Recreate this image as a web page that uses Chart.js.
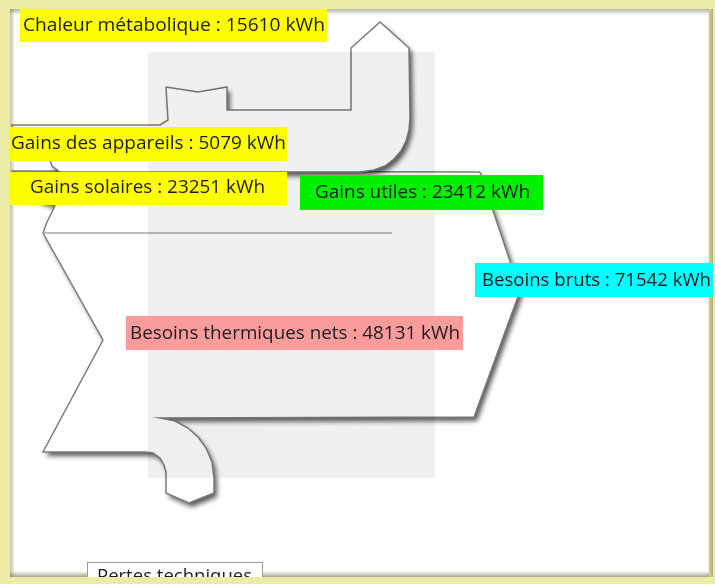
<!DOCTYPE html>
<html lang="fr">
<head>
<meta charset="utf-8" />
<title>Bilan thermique</title>
<style>
  html, body { margin: 0; padding: 0; background: #fff; }
  #wrap { width: 715px; height: 584px; }
</style>
</head>
<body>
<div id="wrap"><canvas id="bilan" width="715" height="584"></canvas></div>

<script src="https://cdn.jsdelivr.net/npm/chart.js"></script>
<script>
// flux du bilan (kWh)
const flowNames = ['Chaleur métabolique', 'Gains des appareils', 'Gains solaires', 'Gains utiles',
                   'Besoins bruts', 'Besoins thermiques nets', 'Pertes techniques'];
const flowValues = [15610, 5079, 23251, 23412, 71542, 48131, null];
const flowUnit = 'kWh';
const flowColors = ['#ffff00', '#ffff00', '#ffff00', '#00f000', '#00ffff', '#fa9c9c', '#ffffff'];

// contours du schéma, en unités du graphique (x 0-715, y 0-584 vers le bas)
const hookPath = [[166,87],[198,92],[227,87],[227,110],[351,110],[351,48],[380,22],[409,48],
                  [410,118],[409,130],[406,141],[401,151],[394,159],[385,166],[374,170],[360,172],
                  [60,172],[52,166],[50,160],[52,150],[12,150],[12,125],[160,125],[168,120],[166,87]];
const mainPath = [[480,172],[12,171],[12,190],[55,206],[47,222],[43,233],[103,340],[43,452],
                  [146,452],[153,453],[160,458],[164,465],[166,472],[166,493],[189,503],[214,493],
                  [214,478],[212,462],[206,448],[198,437],[188,428],[175,421],[160,418],
                  [474,417],[520,291],[480,172]];
const splitLine = [[43,233],[392,233]];
const highlightBox = [148, 52, 435, 478];

// étiquettes : boîte [x, y, largeur, hauteur] puis texte [x, ligne de base, largeur]
const labelBoxes = [[20,8,307,34],[10,127,277,34],[10,172,277,33],[300,175,243,35],
                    [475,263,238,34],[126,316,337,34],[87,562,175,30]];
const labelText = [[23,31,302],[11,149,275],[30,193,235],[315,198,215],
                   [482,286,229],[130,339,330],[97,582,155]];

const toPts = path => path.map(([x, y]) => ({ x: x, y: y }));

function setShadow(c, on) {
    c.shadowColor = on ? 'rgba(0,0,0,0.65)' : 'rgba(0,0,0,0)';
    c.shadowBlur = on ? 5 : 0;
    c.shadowOffsetX = on ? 3 : 0;
    c.shadowOffsetY = on ? 4 : 0;
}

const decorPlugin = {
    id: 'decor',
    beforeDatasetsDraw(chart) {
        chart.ctx.save();
        setShadow(chart.ctx, true);
    },
    // le remplissage porte l'ombre, pas le trait
    beforeDatasetDraw(chart) { setShadow(chart.ctx, false); },
    afterDatasetDraw(chart) { setShadow(chart.ctx, true); },
    afterDatasetsDraw(chart) {
        const c = chart.ctx;
        c.restore();
        const px = v => chart.scales.x.getPixelForValue(v);
        const py = v => chart.scales.y.getPixelForValue(v);
        // zone grisée
        const [x0, y0, x1, y1] = highlightBox;
        c.fillStyle = 'rgba(0,0,0,0.06)';
        c.fillRect(px(x0), py(y0), px(x1) - px(x0), py(y1) - py(y0));
    },
    afterDraw(chart) {
        const c = chart.ctx;
        const px = v => chart.scales.x.getPixelForValue(v);
        const py = v => chart.scales.y.getPixelForValue(v);
        const W = chart.width, H = chart.height;
        const L = 10, T = 9, R = 709, B = 577;

        // cadre jaune
        c.save();
        c.fillStyle = '#ececa6';
        c.beginPath();
        c.rect(0, 0, W, H);
        c.rect(L, T, R - L, B - T);
        c.fill('evenodd');
        const strip = (gx0, gy0, gx1, gy1, rx, ry, rw, rh, a) => {
            const g = c.createLinearGradient(gx0, gy0, gx1, gy1);
            g.addColorStop(0, 'rgba(95,95,50,' + a + ')');
            g.addColorStop(1, 'rgba(95,95,50,0)');
            c.fillStyle = g;
            c.fillRect(rx, ry, rw, rh);
        };
        strip(0, T, 0, T + 6, L, T, R - L, 6, 0.45);
        strip(L, 0, L + 5, 0, L, T, 5, B - T, 0.4);
        strip(R + 4, 0, R - 2, 0, R - 2, T, 6, B - T, 0.45);
        strip(0, B, 0, B - 6, L, B - 6, R - L, 6, 0.55);
        c.restore();

        // étiquettes
        c.save();
        c.beginPath();
        c.rect(L, T, R + 4 - L, B - T);
        c.clip();
        c.font = '19px "Open Sans", "Noto Sans", sans-serif';
        c.textBaseline = 'alphabetic';
        flowNames.forEach((name, i) => {
            const [bx, by, bw, bh] = labelBoxes[i];
            c.fillStyle = flowColors[i];
            c.fillRect(px(bx), py(by), px(bx + bw) - px(bx), py(by + bh) - py(by));
            if (flowValues[i] === null) {
                c.strokeStyle = '#9a9a9a';
                c.lineWidth = 1;
                c.strokeRect(px(bx) + 0.5, py(by) + 0.5, px(bx + bw) - px(bx), py(by + bh) - py(by));
            }
            const txt = flowValues[i] === null ? name : name + ' : ' + flowValues[i] + ' ' + flowUnit;
            const [tx, ty, tw] = labelText[i];
            const w = c.measureText(txt).width;
            c.save();
            c.translate(px(tx), py(ty));
            c.scale((px(tx + tw) - px(tx)) / w, 1);
            c.fillStyle = '#1c1c1c';
            c.fillText(txt, 0, 0);
            c.restore();
        });
        c.restore();
    }
};

const shapeStyle = {
    fill: 'shape',
    backgroundColor: '#ffffff',
    borderColor: '#7c7c7c',
    borderWidth: 1.5,
    pointRadius: 0,
    tension: 0
};

new Chart(document.getElementById('bilan'), {
    type: 'line',
    data: {
        datasets: [
            Object.assign({ label: 'besoins', data: toPts(mainPath), order: 3 }, shapeStyle),
            Object.assign({ label: 'apports', data: toPts(hookPath), order: 2 }, shapeStyle),
            { label: 'séparation', data: toPts(splitLine), order: 1, fill: false,
              borderColor: '#a8a8a8', borderWidth: 1.5, pointRadius: 0 }
        ]
    },
    options: {
        responsive: false,
        animation: false,
        events: [],
        layout: { padding: 0 },
        plugins: { legend: { display: false }, tooltip: { enabled: false } },
        scales: {
            x: { type: 'linear', min: 0, max: 715, display: false },
            y: { type: 'linear', min: 0, max: 584, reverse: true, display: false }
        }
    },
    plugins: [decorPlugin]
});
</script>
</body>
</html>
